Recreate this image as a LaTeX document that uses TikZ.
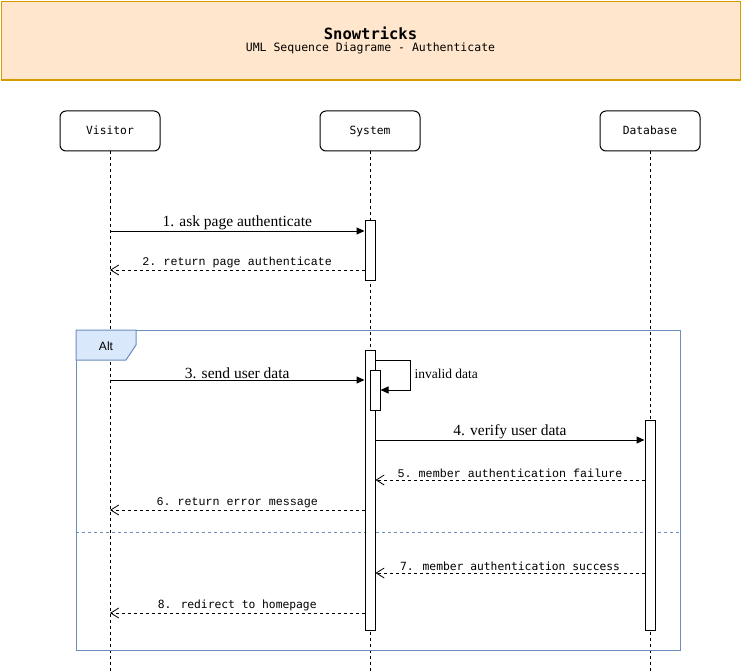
\documentclass[tikz,border=0pt]{standalone}
\usepackage{fontspec}
\setmainfont{Liberation Serif}
\setmonofont{Liberation Mono}
\setsansfont{Liberation Sans}
\newfontfamily\sansmono{DejaVu Sans Mono}
\usetikzlibrary{arrows.meta,calc}
\definecolor{titlefill}{HTML}{FFE6CC}
\definecolor{titledraw}{HTML}{D79B00}
\definecolor{frameblue}{HTML}{6C8EBF}
\definecolor{tabfill}{HTML}{DAE8FC}
\begin{document}
\begin{tikzpicture}[x=1pt,y=-1pt,line width=1pt,
  head/.style={draw,rounded corners=6pt,minimum width=100pt,minimum height=40pt,
    inner sep=0pt,text height=9.5pt,text depth=1.5pt,font=\sansmono\fontsize{11.3}{13}\selectfont},
  lifeline/.style={draw,dash pattern=on 3pt off 3pt},
  actbox/.style={draw,fill=white,minimum width=10pt,inner sep=0pt},
  msg/.style={draw,-{Triangle[length=8pt,width=7pt]}},
  reply/.style={draw,dash pattern=on 3pt off 3pt,-{Straight Barb[length=8pt,width=10pt,line width=0.8pt]}},
  seriflbl/.style={font=\fontsize{15.5}{17}\selectfont,inner sep=1pt},
  monolbl/.style={font=\ttfamily\fontsize{11.7}{13}\selectfont,inner sep=1.5pt},
  sansmonolbl/.style={font=\sansmono\fontsize{11.3}{13}\selectfont,inner sep=1.5pt},
  frame/.style={draw=frameblue},
]
\useasboundingbox (0,0) rectangle (741,671);
\coordinate (bot) at (0,671);

% title banner
\node[draw=titledraw,fill=titlefill,line width=1.5pt,minimum width=739.5pt,minimum height=78.5pt,inner sep=0pt,anchor=north west] (banner) at (0.75,0.75) {};
\node[font=\sansmono\bfseries\fontsize{15.5}{18}\selectfont] (ttl) at (370.5,33) {Snowtricks};
\node[font=\sansmono\fontsize{11.5}{13}\selectfont] (sub) at (370.5,48) {UML Sequence Diagrame - Authenticate};

% participants
\node[head] (vis) at (110,131) {Visitor};
\node[head] (sys) at (370,131) {System};
\node[head] (db) at (650,131) {Database};

% lifelines
\draw[lifeline] (vis.south) -- (vis.south |- bot);
\draw[lifeline] (sys.south) -- (sys.south |- bot);
\draw[lifeline] (db.south) -- (db.south |- bot);

% alt fragment
\draw[frame] (76,330) rectangle (680,650);
\draw[frame,fill=tabfill] (76,330) -- (136,330) -- (136,345) -- (126,360) -- (76,360) -- cycle;
\node[font=\sffamily\fontsize{12}{14}\selectfont] (alt) at (106,346) {Alt};
\draw[frame,dash pattern=on 3pt off 3pt] (76,532.5) -- (680,532.5);

% activations
\node[actbox,minimum height=60pt] (a1) at (370,250) {};
\node[actbox,minimum height=280pt] (a2) at (370,490) {};
\node[actbox,minimum height=40pt] (a3) at (375,390) {};
\node[actbox,minimum height=210pt] (d1) at (650,525) {};

% messages
\draw[msg] (vis.south |- 0,231) -- (a1.west |- 0,231)
  node[midway,above,seriflbl] {1. ask page authenticate};
\draw[reply] (a1.west |- 0,270) -- (vis.south |- 0,270)
  node[midway,above,monolbl] {2. return page authenticate};
\draw[msg] (vis.south |- 0,380) -- (a2.west |- 0,380)
  node[midway,above,seriflbl] {3. send user data};
\draw[msg] (a2.east |- 0,360) -- (410,360) -- (410,390) -- (a3.east |- 0,390);
\node[anchor=west,font=\fontsize{13.5}{15}\selectfont,inner sep=0pt] (inv) at (414,374) {invalid data};
\draw[msg] (a2.east |- 0,440) -- (d1.west |- 0,440)
  node[midway,above,seriflbl] {4. verify user data};
\draw[reply] (d1.west |- 0,480) -- (a2.east |- 0,480)
  node[midway,above,monolbl] {5. member authentication failure};
\draw[reply] (a2.west |- 0,510) -- (vis.south |- 0,510)
  node[midway,above,monolbl] {6. return error message};
\draw[reply] (d1.west |- 0,573) -- (a2.east |- 0,573)
  node[midway,above,sansmonolbl] {7. member authentication success};
\draw[reply] (a2.west |- 0,613) -- (vis.south |- 0,613)
  node[midway,above,sansmonolbl] {8. redirect to homepage};
\end{tikzpicture}
\end{document}
